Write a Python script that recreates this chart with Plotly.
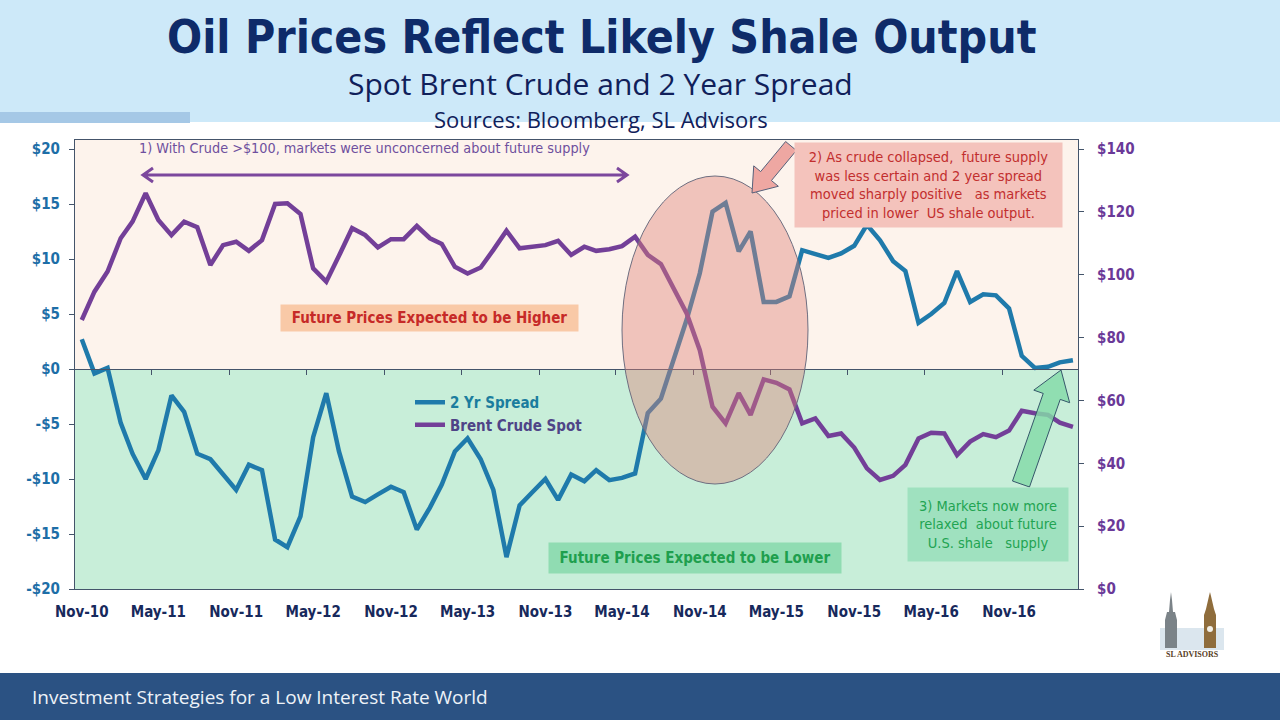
import pandas as pd
import plotly.graph_objects as go

W, H = 1280, 720

# monthly data, Nov-10 .. Apr-17
spread = [2.7, -0.4, 0.1, -4.9, -7.7, -10.0, -7.4, -2.4, -3.9, -7.7,
          -8.2, -9.6, -11.0, -8.7, -9.2, -15.5, -16.2, -13.4, -6.2, -2.2,
          -7.5, -11.6, -12.1, -11.4, -10.7, -11.2, -14.6, -12.6, -10.5, -7.5,
          -6.3, -8.2, -11.0, -17.1, -12.4, -11.2, -10.0, -11.9, -9.6, -10.2,
          -9.2, -10.1, -9.9, -9.5, -4.0, -2.7, 1.1, 4.5, 8.7, 14.3,
          15.1, 10.7, 12.5, 6.1, 6.1, 6.6, 10.8, 10.5, 10.1, 10.5,
          11.2, 13.1, 11.7, 9.8, 8.9, 4.2, 5.0, 6.0, 8.9, 6.1,
          6.8, 6.7, 5.5, 1.2, 0.1, 0.2, 0.6, 0.8]

brent = [85.6, 94.6, 101.0, 111.6, 116.9, 125.9, 117.4, 112.6, 116.9, 115.1,
         103.1, 109.4, 110.5, 107.6, 111.0, 122.5, 122.7, 119.3, 102.0, 97.8,
         106.0, 114.8, 112.6, 108.7, 111.3, 111.3, 115.5, 111.6, 109.8, 102.5,
         100.4, 102.3, 107.9, 114.0, 108.4, 108.9, 109.4, 110.8, 106.3, 108.9,
         107.6, 108.1, 109.1, 112.1, 106.3, 103.4, 95.1, 87.7, 76.0, 58.0,
         52.7, 62.3, 55.4, 66.7, 65.6, 63.5, 52.7, 54.3, 48.7, 49.5,
         45.0, 38.4, 34.7, 36.0, 39.5, 47.9, 49.7, 49.5, 42.6, 46.9,
         49.3, 48.3, 50.4, 56.7, 55.9, 55.4, 52.9, 51.6]

months = pd.date_range("2010-11-01", periods=len(spread), freq="MS")
label_months = months[::6]
label_text = [m.strftime("%b-%y") for m in label_months]
mid_ticks = [m - pd.Timedelta(days=15) for m in months[6::6]]

left_ticks = [-20, -15, -10, -5, 0, 5, 10, 15, 20]
left_text = ["-$20", "-$15", "-$10", "-$5", "$0", "$5", "$10", "$15", "$20"]
right_ticks = [0, 20, 40, 60, 80, 100, 120, 140]
right_text = ["$0", "$20", "$40", "$60", "$80", "$100", "$120", "$140"]

BLUE = "#1f7aab"
PURPLE = "#733f98"
AXIS = "#44546a"
NARROW = "Liberation Sans Narrow, Arial Narrow, DejaVu Sans Condensed, sans-serif"
BOLDF = "DejaVu Sans Condensed, DejaVu Sans, sans-serif"


def X(px):
    return px / W


def Y(py):
    return 1 - py / H


def poly(points):
    s = "M " + " L ".join(f"{X(a):.5f},{Y(b):.5f}" for a, b in points)
    return s + " Z"


def block_arrow(tail, tip, half_shaft, half_head, head_len):
    dx, dy = tip[0] - tail[0], tip[1] - tail[1]
    ln = (dx * dx + dy * dy) ** 0.5
    ux, uy = dx / ln, dy / ln
    nx, ny = -uy, ux
    bx, by = tip[0] - head_len * ux, tip[1] - head_len * uy
    pts = [
        (tail[0] + half_shaft * nx, tail[1] + half_shaft * ny),
        (bx + half_shaft * nx, by + half_shaft * ny),
        (bx + half_head * nx, by + half_head * ny),
        tip,
        (bx - half_head * nx, by - half_head * ny),
        (bx - half_shaft * nx, by - half_shaft * ny),
        (tail[0] - half_shaft * nx, tail[1] - half_shaft * ny),
    ]
    return poly(pts)


fig = go.Figure()

fig.add_trace(go.Scatter(
    x=months, y=spread, mode="lines", name="<span style='color:#1b7d9e'>2 Yr Spread</span>",
    line=dict(color=BLUE, width=4.5), xaxis="x", yaxis="y", hoverinfo="skip"))
fig.add_trace(go.Scatter(
    x=months, y=brent, mode="lines", name="<span style='color:#4f4487'>Brent Crude Spot</span>",
    line=dict(color=PURPLE, width=4.5), xaxis="x", yaxis="y2", hoverinfo="skip"))
# carrier for the tick marks along the zero line
fig.add_trace(go.Scatter(
    x=[months[0]], y=[spread[0]], mode="markers", marker=dict(opacity=0),
    xaxis="x2", yaxis="y", showlegend=False, hoverinfo="skip"))

xr = [months[0] - pd.Timedelta(days=16), months[-1] + pd.Timedelta(days=12)]
xdom = [X(75), X(1078)]
ydom = [Y(589), Y(140)]
ytop_left = 20 + 9 / 11
ytop_right = 140 + 9 * 140 / 440

shapes = [
    # header and footer bands
    dict(type="rect", xref="paper", yref="paper", x0=0, x1=1, y0=Y(122), y1=1,
         fillcolor="#cde9f9", line_width=0, layer="below"),
    dict(type="rect", xref="paper", yref="paper", x0=0, x1=X(190), y0=Y(123), y1=Y(112),
         fillcolor="#a5c8e6", line_width=0, layer="below"),
    dict(type="rect", xref="paper", yref="paper", x0=0, x1=1, y0=0, y1=Y(673),
         fillcolor="#2b5283", line_width=0, layer="below"),
    # plot regions
    dict(type="rect", xref="x domain", yref="y", x0=0, x1=1, y0=0, y1=ytop_left,
         fillcolor="#fdf3ec", line_width=0, layer="below"),
    dict(type="rect", xref="x domain", yref="y", x0=0, x1=1, y0=-20, y1=0,
         fillcolor="#c8eed9", line_width=0, layer="below"),
    # ellipse over the collapse
    dict(type="circle", xref="paper", yref="paper", x0=X(622), x1=X(808), y0=Y(484), y1=Y(176),
         fillcolor="rgba(222,128,118,0.42)", line=dict(color="#6e6e80", width=1), layer="above"),
    # double headed arrow
    dict(type="path", xref="paper", yref="paper",
         path=(f"M {X(144)},{Y(175)} L {X(626)},{Y(175)} "
               f"M {X(153)},{Y(168)} L {X(143)},{Y(175)} L {X(153)},{Y(182)} "
               f"M {X(617)},{Y(168)} L {X(627)},{Y(175)} L {X(617)},{Y(182)}"),
         line=dict(color="#7c479d", width=3), layer="above"),
    # block arrows
    dict(type="path", xref="paper", yref="paper",
         path=block_arrow((791, 146), (752, 193), 7, 16, 22),
         fillcolor="#eea7a2", line=dict(color="#56607a", width=1), layer="above"),
    dict(type="path", xref="paper", yref="paper",
         path=block_arrow((1021, 484), (1061, 370), 9, 19, 28),
         fillcolor="rgba(132,218,168,0.82)", line=dict(color="#35566a", width=1), layer="above"),
    # logo: two towers
    dict(type="rect", xref="paper", yref="paper", x0=X(1160), x1=X(1224), y0=Y(650), y1=Y(628),
         fillcolor="#dbe6ee", line_width=0, layer="below"),
    dict(type="path", xref="paper", yref="paper",
         path=poly([(1165, 648), (1165, 620), (1167, 612), (1169, 612), (1170, 600),
                    (1171, 592), (1172, 600), (1173, 612), (1175, 612), (1177, 620), (1177, 648)]),
         fillcolor="#7b8388", line_width=0, layer="above"),
    dict(type="path", xref="paper", yref="paper",
         path=poly([(1204, 648), (1204, 615), (1206, 609), (1209, 596), (1210, 592),
                    (1211, 596), (1214, 609), (1216, 615), (1216, 648)]),
         fillcolor="#8f6d3c", line_width=0, layer="above"),
    dict(type="circle", xref="paper", yref="paper", x0=X(1207), x1=X(1213), y0=Y(632), y1=Y(626),
         fillcolor="#f2efe6", line_width=0, layer="above"),
]

ann = [
    dict(text="<b>Oil Prices Reflect Likely Shale Output</b>", x=X(602), y=Y(37),
         font=dict(family=BOLDF, size=46, color="#0e2b69")),
    dict(text="Spot Brent Crude and 2 Year Spread", x=X(600), y=Y(83),
         font=dict(family="Open Sans, sans-serif", size=30, color="#10205a")),
    dict(text="Sources: Bloomberg, SL Advisors", x=X(601), y=Y(119),
         font=dict(family="Open Sans, sans-serif", size=22, color="#10205a")),
    dict(text="Investment Strategies for a Low Interest Rate World", x=X(30), y=Y(697), xanchor="left",
         font=dict(family="Open Sans, sans-serif", size=19, color="#eef2f8")),
    dict(text="1) With Crude >$100, markets were unconcerned about future supply", x=X(364), y=Y(148),
         font=dict(family=NARROW, size=14.3, color="#6e4f9e")),
    dict(text="<b>Future Prices Expected to be Higher</b>", x=X(429.5), y=Y(318),
         width=297, height=26, bgcolor="#f9c9a7", borderpad=0,
         font=dict(family=NARROW, size=15, color="#c62a28")),
    dict(text="<b>Future Prices Expected to be Lower</b>", x=X(695), y=Y(558),
         width=292, height=30, bgcolor="#90dcb2", borderpad=0,
         font=dict(family=NARROW, size=15, color="#1f9f4e")),
    dict(text=("2) As crude collapsed,  future supply<br>was less certain and 2 year spread<br>"
               "moved sharply positive   as markets<br>priced in lower  US shale output."),
         x=X(928.5), y=Y(185), width=267, height=84, bgcolor="#f4c3bc", borderpad=0,
         font=dict(family=NARROW, size=14.5, color="#c22e2e")),
    dict(text="3) Markets now more<br>relaxed  about future<br>U.S. shale   supply",
         x=X(988), y=Y(524.5), width=160, height=73, bgcolor="#9fe1bf", borderpad=0,
         font=dict(family=NARROW, size=14.5, color="#22a452")),
    dict(text="<b>SL ADVISORS</b>", x=X(1192), y=Y(654),
         font=dict(family="Liberation Serif, serif", size=8, color="#5a3f26")),
]
for a in ann:
    a.update(xref="paper", yref="paper", showarrow=False)
    a.setdefault("xanchor", "center")
    a.setdefault("yanchor", "middle")

fig.update_layout(
    width=W, height=H,
    autosize=False,
    margin=dict(l=0, r=0, t=0, b=0, pad=0, autoexpand=False),
    paper_bgcolor="white",
    plot_bgcolor="rgba(0,0,0,0)",
    showlegend=True,
    legend=dict(x=X(410), y=Y(386), xanchor="left", yanchor="top",
                bgcolor="rgba(0,0,0,0)", itemwidth=30, tracegroupgap=0,
                font=dict(family=BOLDF, size=15, weight="bold")),
    xaxis=dict(domain=xdom, range=xr, type="date", tickvals=label_months, ticktext=label_text,
               ticks="", ticklabelstandoff=9, showgrid=False, zeroline=False,
               showline=True, mirror=True, linecolor=AXIS, linewidth=1, automargin=False,
               tickfont=dict(family=BOLDF, size=15, color="#17295c", weight="bold"),
               anchor="y"),
    xaxis2=dict(domain=xdom, range=xr, type="date", overlaying="x", anchor="free",
                position=Y(369), tickvals=mid_ticks, ticks="outside", ticklen=5,
                tickcolor=AXIS, showticklabels=False, showgrid=False, zeroline=False,
                showline=True, linecolor=AXIS, linewidth=1.2, automargin=False),
    yaxis=dict(domain=ydom, range=[-20, ytop_left], tickvals=left_ticks, ticktext=left_text,
               ticks="outside", ticklen=5, tickcolor=AXIS, ticklabelstandoff=6,
               showgrid=False, zeroline=False, showline=True, mirror=True,
               linecolor=AXIS, linewidth=1, anchor="x", automargin=False,
               tickfont=dict(family=BOLDF, size=15, color="#1d6ea7", weight="bold")),
    yaxis2=dict(domain=ydom, range=[0, ytop_right], tickvals=right_ticks, ticktext=right_text,
                overlaying="y", side="right", anchor="x", automargin=False,
                ticks="outside", ticklen=5, tickcolor=AXIS, ticklabelstandoff=10,
                showgrid=False, zeroline=False, showline=True, linecolor=AXIS, linewidth=1,
                tickfont=dict(family=BOLDF, size=15, color="#6a3998", weight="bold")),
    shapes=shapes,
    annotations=ann,
    hovermode=False,
)

# drop the page's default body margin so the 1280x720 figure fills the window
fig.write_html("out.html", config={"displayModeBar": False},
               post_script="document.body.style.margin='0';document.body.style.overflow='hidden';")
